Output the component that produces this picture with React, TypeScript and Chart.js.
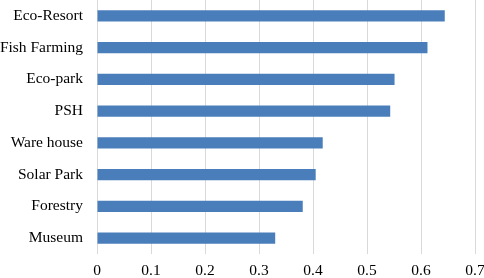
import React, { useEffect, useRef } from "react";
import { Chart, registerables } from "chart.js";

Chart.register(...registerables);

const categories = ["Eco-Resort", "Fish Farming", "Eco-park", "PSH", "Ware house", "Solar Park", "Forestry", "Museum"];
const values = [0.644, 0.612, 0.551, 0.543, 0.418, 0.405, 0.381, 0.330];
const xTicks = [0, 0.1, 0.2, 0.3, 0.4, 0.5, 0.6, 0.7];

export default function App() {
  const ref = useRef<HTMLCanvasElement | null>(null);
  useEffect(() => {
    if (!ref.current) return;
    const font = { family: "'Liberation Serif', 'Times New Roman', serif", size: 15.5 };
    const chart = new Chart(ref.current, {
      type: "bar",
      data: {
        labels: categories,
        datasets: [
          {
            data: values,
            backgroundColor: "#4a7ebb",
            borderWidth: 0,
            barPercentage: 0.356,
            categoryPercentage: 1,
          },
        ],
      },
      options: {
        indexAxis: "y",
        animation: false,
        responsive: false,
        maintainAspectRatio: false,
        devicePixelRatio: 1,
        layout: { padding: { top: 0, right: 9, bottom: 0, left: 0 } },
        plugins: { legend: { display: false }, tooltip: { enabled: false } },
        scales: {
          x: {
            min: 0,
            max: 0.7,
            afterBuildTicks: (scale: any) => {
              scale.ticks = xTicks.map((v) => ({ value: v }));
            },
            afterFit: (scale: any) => {
              scale.height = 24;
              scale.paddingLeft = 0;
              scale.paddingRight = 0;
            },
            grid: { color: "#d9d9d9", lineWidth: 1, drawTicks: false },
            border: { display: false },
            ticks: {
              font,
              color: "#000",
              padding: 8,
              callback: (v: any) => String(Math.round(Number(v) * 10) / 10),
            },
          },
          y: {
            afterFit: (scale: any) => {
              scale.width = 97;
              scale.paddingTop = 0;
              scale.paddingBottom = 0;
            },
            grid: { display: false, drawTicks: false },
            border: { display: false },
            ticks: { font, color: "#000", padding: 14 },
          },
        },
      },
    });
    return () => chart.destroy();
  }, []);
  return (
    <div style={{ position: "fixed", left: 0, top: 0, width: 484, height: 278, background: "#fff" }}>
      <canvas ref={ref} width={484} height={278} style={{ width: 484, height: 278, display: "block" }} />
    </div>
  );
}
